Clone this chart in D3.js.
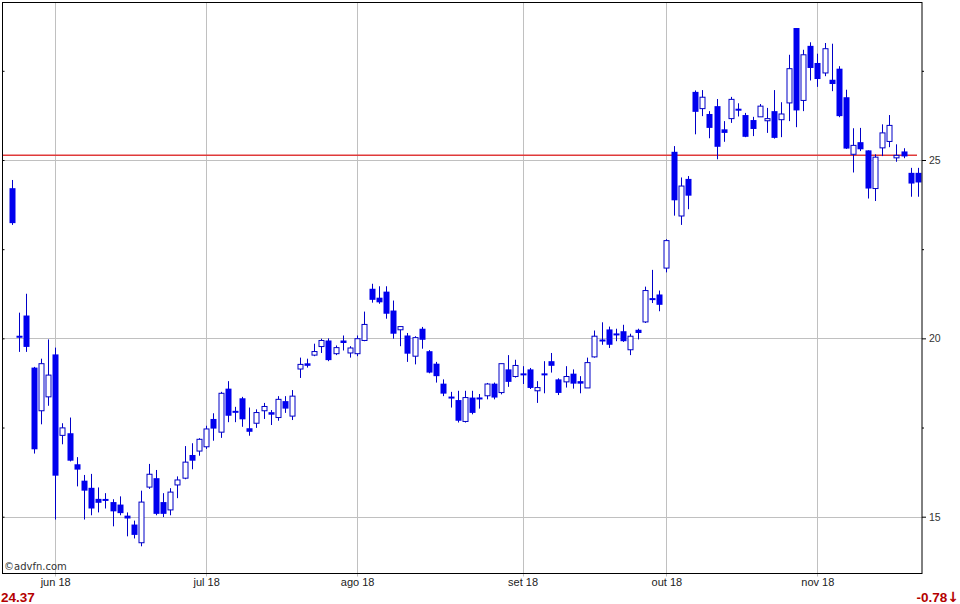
<!DOCTYPE html>
<html><head><meta charset="utf-8">
<script src="https://cdn.jsdelivr.net/npm/d3@7"></script>
<style>
html,body{margin:0;padding:0;background:#fff;}
svg{display:block;}
</style></head>
<body>
<svg id="chart" width="960" height="604"></svg>
<script>
const openP  = [24.21,20.06,20.64,19.18,17.97,18.36,19.55,17.28,17.34,16.47,16.01,15.81,15.50,15.48,15.41,15.34,15.03,14.78,14.27,15.83,
16.08,15.41,15.19,15.89,16.08,16.73,16.84,16.96,17.74,17.37,18.59,17.96,18.32,17.48,17.62,17.97,17.93,17.78,18.24,17.82,
19.14,19.30,19.53,19.77,19.94,19.57,19.94,19.59,19.57,19.94,21.39,21.14,21.31,20.78,20.24,20.08,19.50,20.27,19.64,19.29,
18.73,18.35,18.27,17.67,18.34,18.34,18.39,18.73,18.48,19.13,18.93,19.00,19.13,18.53,19.00,19.36,18.85,18.78,19.01,18.80,
18.61,19.48,19.95,20.25,20.12,20.20,19.68,20.24,20.46,21.11,21.23,21.97,25.23,23.43,24.47,26.91,26.44,26.29,26.51,25.86,
26.16,26.42,26.26,26.12,26.21,26.10,26.37,26.13,26.60,28.70,26.67,28.20,27.72,27.44,27.25,27.56,26.76,25.16,25.50,25.27,
24.20,25.34,25.52,25.06,25.24,24.64,24.64];
const highP  = [24.44,20.72,21.25,19.20,19.43,19.97,19.74,17.62,17.78,16.67,16.17,16.20,15.82,15.66,15.49,15.57,15.12,14.89,15.73,16.48,
16.31,15.66,15.80,16.13,16.98,17.06,17.20,17.55,17.90,18.50,18.80,18.08,18.36,18.06,18.01,18.19,17.99,18.38,18.38,18.55,
19.46,19.43,19.85,19.99,20.00,19.80,20.08,19.78,20.08,20.75,21.53,21.46,21.46,21.06,20.33,20.15,20.06,20.32,19.67,19.34,
18.85,18.50,18.53,18.53,18.53,18.44,18.75,18.76,19.29,19.53,19.40,19.22,19.17,18.80,19.36,19.59,18.88,19.22,19.13,18.94,
19.46,20.22,20.45,20.33,20.27,20.38,20.13,20.27,21.45,21.92,21.34,22.78,25.39,24.51,24.55,26.95,26.96,26.37,26.71,26.09,
26.77,26.59,26.32,26.21,26.57,26.46,26.96,26.62,27.95,28.70,28.09,28.30,27.98,28.28,28.26,27.63,26.97,25.89,25.90,25.27,
25.16,26.00,26.26,25.44,25.33,24.78,24.78];
const lowP   = [23.18,19.62,19.62,16.77,17.59,18.11,14.92,17.03,16.55,15.85,14.92,15.04,15.12,15.23,14.73,15.04,14.45,14.39,14.17,15.78,
15.04,14.99,15.04,15.52,16.05,16.33,16.71,16.90,17.13,17.21,17.65,17.65,17.52,17.27,17.49,17.74,17.57,17.69,17.91,17.71,
18.89,19.18,19.50,19.59,19.36,19.53,19.66,19.46,19.50,19.92,21.00,20.97,20.55,19.99,19.78,19.34,19.27,19.71,19.02,18.76,
18.38,18.06,17.64,17.64,17.87,18.03,18.29,18.29,18.43,18.64,18.90,18.72,18.58,18.19,18.46,19.04,18.41,18.62,18.59,18.46,
18.61,19.46,19.82,19.73,19.92,19.90,19.53,19.97,20.43,20.99,20.76,21.85,23.44,23.18,23.62,25.72,26.23,25.61,25.02,25.51,
26.04,26.22,25.64,25.67,26.21,25.76,25.60,25.64,26.09,25.92,26.37,27.23,27.05,27.35,26.93,26.20,25.31,24.65,25.25,23.92,
23.85,25.11,25.36,24.95,25.05,23.97,23.97];
const closeP = [23.23,20.03,19.76,16.89,19.29,18.97,16.15,17.49,16.57,16.32,15.73,15.23,15.39,15.46,15.15,15.10,14.95,14.49,15.41,16.19,
15.08,15.08,15.69,16.03,16.53,16.57,17.17,17.46,17.47,18.46,17.83,17.92,17.73,17.38,17.92,18.09,17.86,18.29,18.03,18.38,
19.27,19.23,19.63,19.94,19.39,19.74,19.87,19.73,19.99,20.39,21.08,21.01,20.69,20.13,20.33,19.57,20.02,19.96,19.04,18.94,
18.45,18.33,17.69,18.34,17.91,18.29,18.72,18.34,19.29,18.78,19.24,18.98,18.61,18.62,18.98,19.23,18.47,18.93,18.73,18.73,
19.32,20.06,19.93,19.82,20.10,19.92,20.06,20.15,21.34,21.09,20.94,22.74,23.87,24.27,24.00,26.35,26.76,25.90,25.37,25.76,
26.70,26.40,25.65,25.87,26.51,26.16,25.62,26.29,27.56,26.39,27.95,27.58,27.27,28.12,27.13,26.23,25.32,25.41,25.30,24.20,
25.08,25.76,25.97,25.13,25.10,24.34,24.37];

const monthIdx    = [6, 27, 48, 71, 91, 112];
const monthLabels = ["jun 18", "jul 18", "ago 18", "set 18", "out 18", "nov 18"];
const majorTicks  = [15, 20, 25];
const minorTicks  = [17.5, 22.5, 27.5];
const lastPrice   = 24.37;
const change      = -0.78;
const prevClose   = 25.15;

const n = closeP.length;
const data = d3.range(n).map(i => ({i, o: openP[i], h: highP[i], l: lowP[i], c: closeP[i]}));

const svg = d3.select("#chart");
const L = 2.5, R = 922, T = 2.5, B = 573.5;

const x = d3.scaleLinear().domain([0, n - 1]).range([12, 918]);
const y = d3.scaleLinear().domain([15, 25]).range([516.7, 160]);

// grid
const grid = svg.append("g");
grid.selectAll("line.h").data(majorTicks).enter().append("line")
  .attr("x1", L).attr("x2", R).attr("y1", d => Math.round(y(d)) + 0.5).attr("y2", d => Math.round(y(d)) + 0.5)
  .attr("stroke", "#c0c0c0").attr("stroke-width", 1);
grid.selectAll("line.v").data(monthIdx).enter().append("line")
  .attr("y1", T).attr("y2", B + 3).attr("x1", d => Math.round(x(d)) + 0.5).attr("x2", d => Math.round(x(d)) + 0.5)
  .attr("stroke", "#c0c0c0").attr("stroke-width", 1);

// previous close line
svg.append("line")
  .attr("x1", L).attr("x2", x(n - 1) - 1)
  .attr("y1", Math.round(y(prevClose)) + 0.25).attr("y2", Math.round(y(prevClose)) + 0.25)
  .attr("stroke", "#e03a3a").attr("stroke-width", 1.5);

// candles
const blue = "#0000ee", wick = "#0000c8";
const cg = svg.append("g");
const cand = cg.selectAll("g").data(data).enter().append("g");
cand.append("line")
  .attr("x1", d => Math.round(x(d.i)) + 0.5).attr("x2", d => Math.round(x(d.i)) + 0.5)
  .attr("y1", d => y(d.h)).attr("y2", d => y(d.l))
  .attr("stroke", wick).attr("stroke-width", 1);
cand.append("rect")
  .attr("x", d => Math.round(x(d.i)) - (d.c < d.o ? 2.5 : 2))
  .attr("width", d => d.c < d.o ? 6 : 5)
  .attr("y", d => {
    const t = y(Math.max(d.o, d.c)), b = y(Math.min(d.o, d.c));
    return (b - t < 2) ? (t + b) / 2 - 1 : t;
  })
  .attr("height", d => Math.max(2, y(Math.min(d.o, d.c)) - y(Math.max(d.o, d.c))))
  .attr("fill", d => d.c < d.o ? blue : "#ffffff")
  .attr("stroke", d => d.c < d.o ? "none" : wick)
  .attr("stroke-width", 1);

// frame
svg.append("rect").attr("x", L).attr("y", T).attr("width", R - L).attr("height", B - T)
  .attr("fill", "none").attr("stroke", "#000").attr("stroke-width", 1);

// right axis
const rAxis = svg.append("g").attr("transform", `translate(${R},0)`)
  .call(d3.axisRight(y).tickValues(majorTicks).tickSize(4).tickPadding(3).tickFormat(d3.format("d")));
rAxis.select(".domain").remove();
rAxis.selectAll("line").attr("stroke", "#000");
rAxis.selectAll("text").attr("font-family", "Liberation Sans, Arial, sans-serif").attr("font-size", 10.5).attr("fill", "#333");
const rMinor = svg.append("g").attr("transform", `translate(${R},0)`)
  .call(d3.axisRight(y).tickValues(minorTicks).tickSize(2).tickFormat(""));
rMinor.select(".domain").remove();
rMinor.selectAll("line").attr("stroke", "#000");
// left inner ticks
const lAxis = svg.append("g").attr("transform", `translate(${L},0)`)
  .call(d3.axisRight(y).tickValues(majorTicks.concat(minorTicks)).tickSize(2).tickFormat(""));
lAxis.select(".domain").remove();
lAxis.selectAll("line").attr("stroke", "#000");

// bottom axis labels
const bAxis = svg.append("g").attr("transform", `translate(0,${B})`)
  .call(d3.axisBottom(x).tickValues(monthIdx).tickSize(0).tickPadding(5).tickFormat((d, k) => monthLabels[k]));
bAxis.select(".domain").remove();
bAxis.selectAll("text").attr("font-family", "Liberation Sans Narrow, Liberation Sans, Arial, sans-serif")
  .attr("font-size", 11).attr("fill", "#222");

// watermark
svg.append("text").attr("x", 4).attr("y", 569.5).text("©advfn.com")
  .attr("font-family", "DejaVu Sans, Verdana, sans-serif").attr("font-size", 10).attr("fill", "#333");

// last price & change
svg.append("text").attr("x", 1).attr("y", 602).text(lastPrice.toFixed(2))
  .attr("font-family", "Liberation Sans Narrow, Liberation Sans, Arial, sans-serif").attr("font-weight", "bold")
  .attr("font-size", 13.5).attr("fill", "#b40000");
const ch = svg.append("text").attr("x", 959).attr("y", 602).attr("text-anchor", "end")
  .attr("font-family", "Liberation Sans Narrow, Liberation Sans, Arial, sans-serif").attr("font-weight", "bold")
  .attr("font-size", 13.5).attr("fill", "#b40000");
ch.append("tspan").text(change.toFixed(2));
ch.append("tspan").attr("font-family", "DejaVu Sans, sans-serif").attr("font-weight", "bold").attr("font-size", 14).text("↓");
</script>
</body></html>
